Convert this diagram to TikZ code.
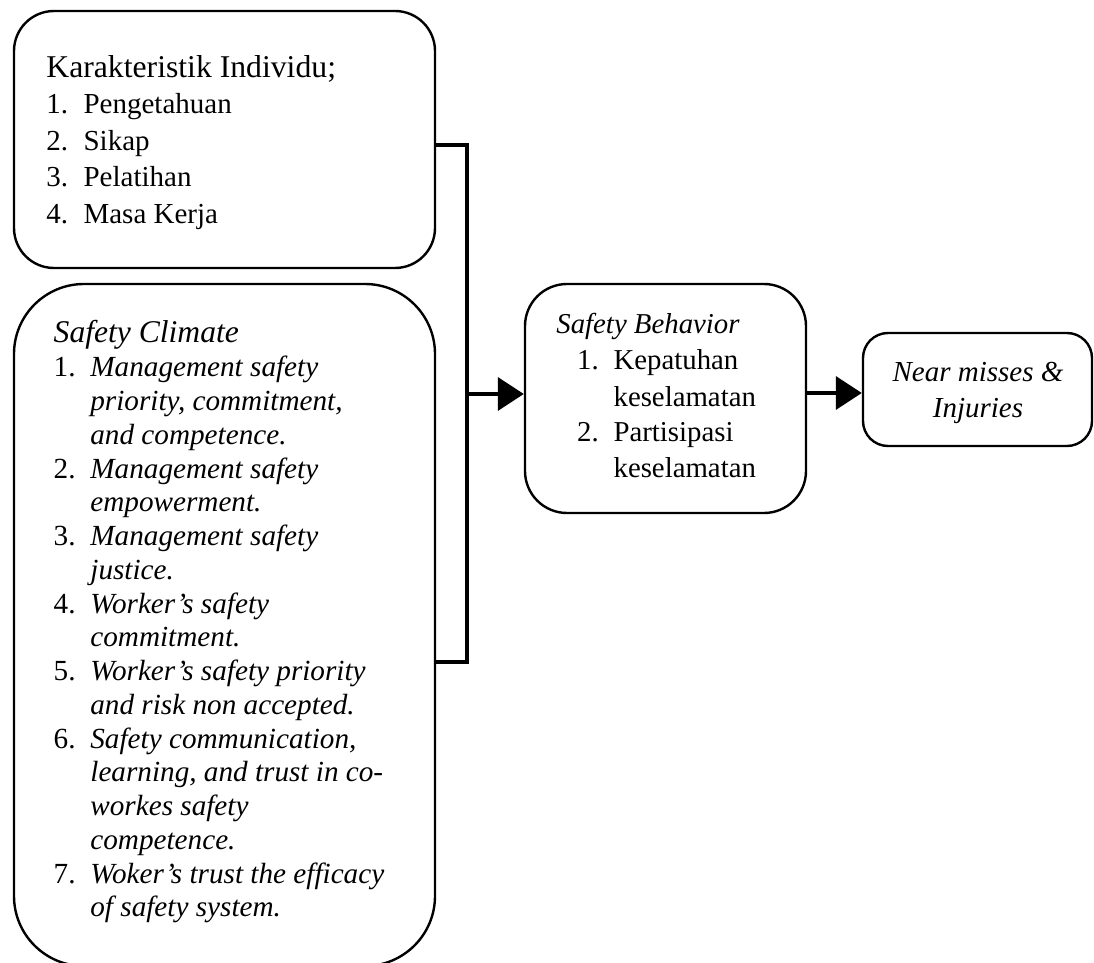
\documentclass[tikz,border=0pt]{standalone}
\usepackage{fontspec}
\setmainfont{Liberation Serif}
\usetikzlibrary{arrows.meta}
\newcommand{\itmA}[2]{\makebox[18.6pt][l]{#1}#2}
\newcommand{\cntA}[1]{\hspace*{18.6pt}#1}
\newcommand{\itmB}[2]{\makebox[18.35pt][l]{#1}\textit{#2}}
\newcommand{\cntB}[1]{\hspace*{18.35pt}\textit{#1}}
\begin{document}
\begin{tikzpicture}[x=0.5pt,y=-0.5pt,
  box/.style={draw,line width=1.2pt,inner sep=0pt,rectangle},
  txt/.style={inner sep=0pt,anchor=base west},
  bracket/.style={line width=2pt},
  arr/.style={line width=1.8pt,-{Triangle[length=13pt,width=16.5pt]}}]
\useasboundingbox (0,0) rectangle (1094,963);
% boxes
\node[box,minimum width=210.5pt,minimum height=128.5pt,rounded corners=20pt] (k) at (224.5,139.5) {};
\node[box,minimum width=210.5pt,minimum height=341pt,rounded corners=35pt] (c) at (224.5,625) {};
\node[box,minimum width=140.5pt,minimum height=114.5pt,rounded corners=21pt] (s) at (665.5,398.5) {};
\node[box,minimum width=114.5pt,minimum height=56.5pt,rounded corners=12.5pt] (n) at (977.5,389.5) {};
% texts
\node[txt] (kt) at (46,77.3) {\parbox[t]{200pt}{\fontsize{14.5}{18.25}\selectfont
{\fontsize{15.85}{18.25}\selectfont Karakteristik Individu;}\\
\itmA{1.}{Pengetahuan}\\
\itmA{2.}{Sikap}\\
\itmA{3.}{Pelatihan}\\
\itmA{4.}{Masa Kerja}}};
\node[txt] (ct) at (53.3,343) {\parbox[t]{200pt}{\fontsize{14.6}{16.88}\selectfont
{\fontsize{15.8}{16.88}\selectfont\itshape Safety Climate}\\
\itmB{1.}{Management safety}\\
\cntB{priority, commitment,}\\
\cntB{and competence.}\\
\itmB{2.}{Management safety}\\
\cntB{empowerment.}\\
\itmB{3.}{Management safety}\\
\cntB{justice.}\\
\itmB{4.}{Worker’s safety}\\
\cntB{commitment.}\\
\itmB{5.}{Worker’s safety priority}\\
\cntB{and risk non accepted.}\\
\itmB{6.}{Safety communication,}\\
\cntB{learning, and trust in co-}\\
\cntB{workes safety}\\
\cntB{competence.}\\
\itmB{7.}{Woker’s trust the efficacy}\\
\cntB{of safety system.}}};
\node[txt] (st) at (556,334) {\parbox[t]{130pt}{\fontsize{14.4}{18}\selectfont
\textit{Safety Behavior}\\
\hspace*{10.4pt}\makebox[18.2pt][l]{1.}Kepatuhan\\
\hspace*{28.6pt}keselamatan\\
\hspace*{10.4pt}\makebox[18.2pt][l]{2.}Partisipasi\\
\hspace*{28.6pt}keselamatan}};
\node[inner sep=0pt,anchor=base] (nt) at (978,381) {\parbox[t]{110pt}{\centering\fontsize{14.5}{18}\selectfont\itshape
Near misses \&\\Injuries}};
% connectors
\coordinate (bt) at (467,145);
\coordinate (bb) at (467,662);
\coordinate (a1) at (467,394);
\coordinate (a2) at (0,393);
\draw[bracket] (k.east |- bt) -- (bt) -- (bb) -- (c.east |- bb);
\draw[arr] (a1) -- (s.west |- a1);
\draw[arr] (s.east |- a2) -- (n.west |- a2);
\end{tikzpicture}
\end{document}
